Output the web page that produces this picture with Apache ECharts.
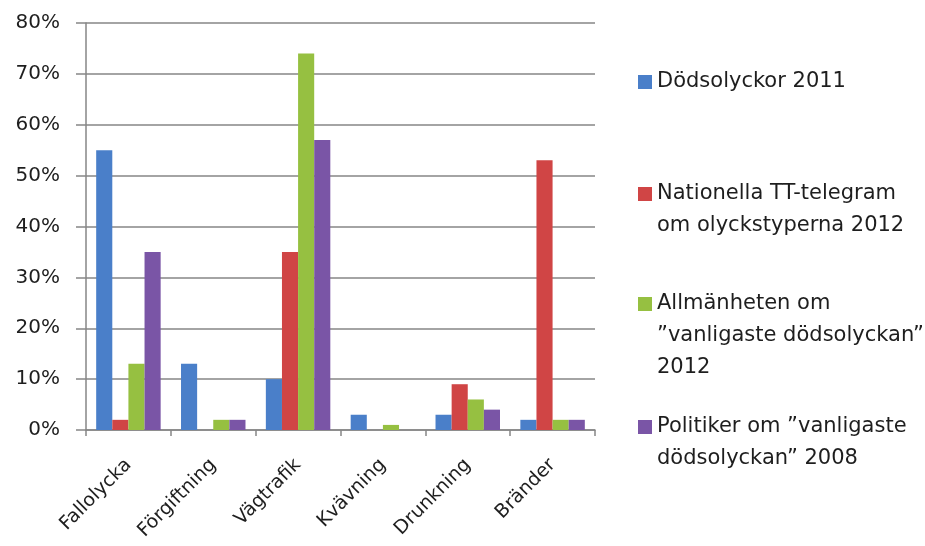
<!DOCTYPE html>
<html><head><meta charset="utf-8">
<script src="https://cdn.jsdelivr.net/npm/echarts@6/dist/echarts.min.js"></script>
<style>html,body{margin:0;padding:0;background:#fff}#c{width:925px;height:546px}</style>
</head><body><div id="c"></div>
<script>
const categories = ['Fallolycka', 'Förgiftning', 'Vägtrafik', 'Kvävning', 'Drunkning', 'Bränder'];
const seriesNames = [
  'Dödsolyckor 2011',
  'Nationella TT-telegram\nom olyckstyperna 2012',
  'Allmänheten om\n”vanligaste dödsolyckan”\n2012',
  'Politiker om ”vanligaste\ndödsolyckan” 2008'
];
const dodsolyckor2011 = [55, 13, 10, 3, 3, 2];
const ttTelegram2012 = [2, 0, 35, 0, 9, 53];
const allmanheten2012 = [13, 2, 74, 1, 6, 2];
const politiker2008 = [35, 2, 57, 0, 4, 2];
const yTicks = [0, 10, 20, 30, 40, 50, 60, 70, 80];

const colors = ['#4a7fc9', '#d04545', '#96c041', '#7a55a6'];
const allData = [dodsolyckor2011, ttTelegram2012, allmanheten2012, politiker2008];
const FONT = '"DejaVu Sans"';
const LH = 32;
const iconCenters = [82, 194, 304, 427];

const legends = seriesNames.map((name, i) => {
  const n = name.split('\n').length;
  return {
    orient: 'vertical', left: 638, top: iconCenters[i] - (2 * n - 1) * LH / 2,
    padding: 0,
    itemWidth: 14, itemHeight: 14, itemGap: 0, icon: 'rect',
    data: [name],
    formatter: nm => '\n'.repeat(n - 1) + nm,
    textStyle: { fontFamily: FONT, fontSize: 21, color: '#1e1e1e', lineHeight: LH },
    selectedMode: false
  };
});

const chart = echarts.init(document.getElementById('c'), null, { renderer: 'canvas' });
chart.setOption({
  animation: false,
  backgroundColor: '#ffffff',
  legend: legends,
  grid: { left: 86, right: 330, top: 23, bottom: 116, containLabel: false },
  xAxis: {
    type: 'category', data: categories,
    axisLine: { lineStyle: { color: '#868686', width: 1.5 } },
    axisTick: { show: true, length: 6, lineStyle: { color: '#868686', width: 1.5 } },
    axisLabel: { rotate: 45, fontFamily: FONT, fontSize: 19, color: '#1e1e1e', margin: 32, interval: 0 }
  },
  yAxis: {
    type: 'value', min: 0, max: 80, interval: 10,
    axisLine: { show: true, lineStyle: { color: '#868686', width: 1.5 } },
    axisTick: { show: true, length: 10, lineStyle: { color: '#868686', width: 1.5 } },
    splitLine: { lineStyle: { color: '#868686', width: 1.5 } },
    axisLabel: { fontFamily: FONT, fontSize: 20, color: '#1e1e1e', margin: 26,
      formatter: v => yTicks.includes(v) ? v + '%' : '' }
  },
  series: allData.map((d, i) => ({
    name: seriesNames[i], type: 'bar', data: d,
    barGap: '0%', barCategoryGap: '24%',
    itemStyle: { color: colors[i] }
  }))
});
</script></body></html>
